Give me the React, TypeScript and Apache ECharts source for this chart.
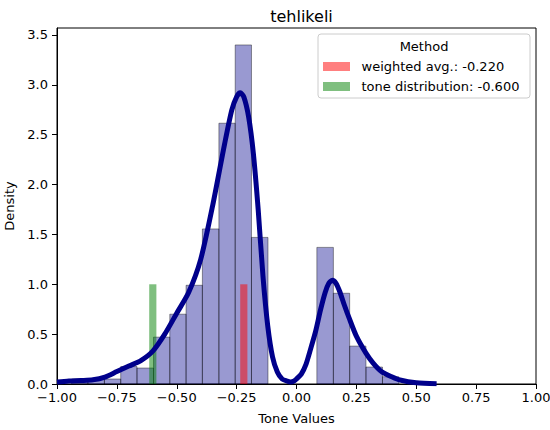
import React, { useEffect, useRef } from "react";
import * as echarts from "echarts";

const chartTitle = "tehlikeli";
const xLabel = "Tone Values";
const yLabel = "Density";
const legendTitle = "Method";

// histogram bins (left edges / right edges) and density heights
const binLeft = [-0.939, -0.871, -0.802, -0.734, -0.666, -0.597, -0.529, -0.461, -0.393, -0.324, -0.256, -0.188, -0.119, -0.051, 0.017, 0.085, 0.154, 0.222, 0.290, 0.359];
const binRight = [-0.871, -0.802, -0.734, -0.666, -0.597, -0.529, -0.461, -0.393, -0.324, -0.256, -0.188, -0.119, -0.051, 0.017, 0.085, 0.154, 0.222, 0.290, 0.359, 0.427];
const binDensity = [0.05, 0.05, 0.05, 0.175, 0.16, 0.47, 0.70, 0.99, 1.555, 2.615, 3.40, 1.47, 0, 0, 0, 1.37, 0.91, 0.38, 0.17, 0.073];

// KDE curve
const kdeX = [-1.0, -0.95, -0.9, -0.85, -0.8, -0.75, -0.7, -0.65, -0.6, -0.55, -0.5, -0.45, -0.4, -0.35, -0.3, -0.27, -0.25, -0.235, -0.22, -0.2, -0.18, -0.16, -0.14, -0.12, -0.1, -0.08, -0.06, -0.04, -0.025, -0.01, 0.0, 0.02, 0.04, 0.06, 0.08, 0.1, 0.12, 0.135, 0.15, 0.165, 0.18, 0.2, 0.22, 0.25, 0.29, 0.32, 0.356, 0.4, 0.432, 0.5, 0.585];
const kdeY = [0.02, 0.03, 0.035, 0.042, 0.07, 0.125, 0.18, 0.235, 0.33, 0.5, 0.71, 0.92, 1.25, 1.79, 2.41, 2.75, 2.88, 2.92, 2.88, 2.68, 2.31, 1.75, 1.08, 0.58, 0.27, 0.12, 0.05, 0.03, 0.02, 0.03, 0.05, 0.1, 0.2, 0.36, 0.53, 0.74, 0.92, 1.01, 1.04, 1.01, 0.93, 0.79, 0.66, 0.48, 0.31, 0.21, 0.123, 0.07, 0.04, 0.012, 0.003];

// method markers
const weightedAvg = -0.22;
const toneDistribution = -0.6;
const markerHeight = 1.0;
const markerWidth = 0.03;

const xTicks = [-1, -0.75, -0.5, -0.25, 0, 0.25, 0.5, 0.75, 1];
const yTicks = [0, 0.5, 1.0, 1.5, 2.0, 2.5, 3.0, 3.5];

const FONT = "DejaVu Sans";
const fmtNum = (v: number, d: number) => v.toFixed(d).replace("-", "\u2212");

export default function App() {
  const ref = useRef<HTMLDivElement>(null);
  useEffect(() => {
    document.body.style.margin = "0";
    const chart = echarts.init(ref.current!, null, { renderer: "svg" });

    const histData = binLeft.map((l, i) => [l, binRight[i], binDensity[i]]);
    const markerData = [
      [weightedAvg - markerWidth / 2, weightedAvg + markerWidth / 2, markerHeight, 0],
      [toneDistribution - markerWidth / 2, toneDistribution + markerWidth / 2, markerHeight, 1],
    ];
    const markerColors = ["rgba(255,0,0,0.5)", "rgba(0,128,0,0.5)"];

    const rectItem = (fill: string, stroke: string | null) => (params: any, api: any) => {
      const x0 = api.value(0);
      const x1 = api.value(1);
      const h = api.value(2);
      if (!h) return null;
      const p0 = api.coord([x0, h]);
      const p1 = api.coord([x1, 0]);
      const f = fill || markerColors[api.value(3)];
      return {
        type: "rect",
        shape: { x: p0[0], y: p0[1], width: p1[0] - p0[0], height: p1[1] - p0[1] },
        style: stroke ? { fill: f, stroke, lineWidth: 1 } : { fill: f },
      };
    };

    chart.setOption({
      animation: false,
      textStyle: { fontFamily: FONT },
      title: {
        text: chartTitle,
        left: 296.5,
        top: 3,
        textAlign: "center",
        textStyle: { fontFamily: FONT, fontSize: 16, fontWeight: "normal", color: "#000" },
      },
      grid: { left: 57, right: 14, top: 28, bottom: 46, outerBoundsMode: "none", containLabel: false, show: true, borderColor: "#000", borderWidth: 1, backgroundColor: "transparent" },
      xAxis: {
        type: "value",
        min: -1,
        max: 1,
        interval: 0.25,
        splitLine: { show: false },
        axisLine: { show: true, onZero: false, lineStyle: { color: "#000", width: 1 } },
        axisTick: { show: true, length: 5, lineStyle: { color: "#000" }, customValues: xTicks },
        axisLabel: { fontFamily: FONT, fontSize: 13, color: "#000", margin: 7, customValues: xTicks, formatter: (v: number) => fmtNum(v, 2) },
        name: xLabel,
        nameLocation: "middle",
        nameGap: 28,
        nameTextStyle: { fontFamily: FONT, fontSize: 13, color: "#000" },
      },
      yAxis: {
        type: "value",
        min: 0,
        max: 3.57,
        interval: 0.5,
        splitLine: { show: false },
        axisLine: { show: true, onZero: false, lineStyle: { color: "#000", width: 1 } },
        axisTick: { show: true, length: 5, lineStyle: { color: "#000" }, customValues: yTicks },
        axisLabel: { fontFamily: FONT, fontSize: 13, color: "#000", margin: 9, customValues: yTicks, formatter: (v: number) => fmtNum(v, 1) },
        name: yLabel,
        nameLocation: "middle",
        nameGap: 33,
        nameTextStyle: { fontFamily: FONT, fontSize: 13, color: "#000" },
      },
      series: [
        {
          type: "custom",
          name: "hist",
          renderItem: rectItem("rgba(0,0,139,0.4)", "rgba(0,0,0,0.4)"),
          encode: { x: [0, 1], y: 2 },
          data: histData,
          z: 1,
          clip: true,
        },
        {
          type: "custom",
          name: "markers",
          renderItem: rectItem("", null),
          encode: { x: [0, 1], y: 2 },
          data: markerData,
          z: 2,
          clip: true,
        },
        {
          type: "line",
          name: "kde",
          data: kdeX.map((x, i) => [x, kdeY[i]]),
          showSymbol: false,
          smooth: 0.25,
          lineStyle: { color: "#00008B", width: 5 },
          z: 3,
          clip: true,
        },
      ],
      graphic: [
        {
          type: "rect",
          shape: { x: 318, y: 34, width: 212, height: 64, r: 3 },
          style: { fill: "rgba(255,255,255,0.8)", stroke: "#cccccc", lineWidth: 1 },
          z: 10,
        },
        {
          type: "text",
          x: 424,
          y: 46,
          style: { text: legendTitle, font: `13px '${FONT}'`, fill: "#000", textAlign: "center", textVerticalAlign: "middle" },
          z: 11,
        },
        {
          type: "rect",
          shape: { x: 323, y: 62, width: 27, height: 9 },
          style: { fill: markerColors[0] },
          z: 11,
        },
        {
          type: "rect",
          shape: { x: 323, y: 82, width: 27, height: 9 },
          style: { fill: markerColors[1] },
          z: 11,
        },
        {
          type: "text",
          x: 361.5,
          y: 66.5,
          style: { text: `weighted avg.: ${weightedAvg.toFixed(3)}`, font: `13px '${FONT}'`, fill: "#000", textVerticalAlign: "middle" },
          z: 11,
        },
        {
          type: "text",
          x: 361.5,
          y: 86.5,
          style: { text: `tone distribution: ${toneDistribution.toFixed(3)}`, font: `13px '${FONT}'`, fill: "#000", textVerticalAlign: "middle" },
          z: 11,
        },
      ],
    });
    return () => chart.dispose();
  }, []);
  return <div ref={ref} style={{ width: 550, height: 430 }} />;
}
